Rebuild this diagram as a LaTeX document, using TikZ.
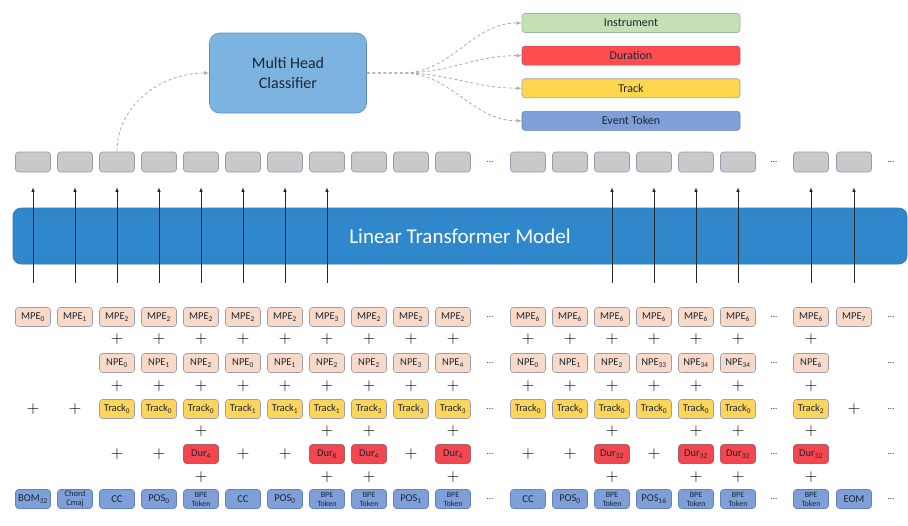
\documentclass[tikz,border=0pt]{standalone}
\usepackage[no-math]{fontspec}
\setmainfont{Carlito}
\usepackage{tikz}
\usetikzlibrary{arrows, positioning, calc}
\definecolor{hidfill}{HTML}{C9C9C9}
\definecolor{hidline}{HTML}{8E9CB6}
\definecolor{pefill}{HTML}{F9D9C7}
\definecolor{peline}{HTML}{9C9EAE}
\definecolor{trkfill}{HTML}{FCD55A}
\definecolor{durfill}{HTML}{F2474E}
\definecolor{durline}{HTML}{A8606A}
\definecolor{evtfill}{HTML}{7E9FD8}
\definecolor{evtline}{HTML}{6482BE}
\definecolor{ltmfill}{HTML}{2F88CC}
\definecolor{ltmline}{HTML}{2A78B6}
\definecolor{mhcfill}{HTML}{7DB3E1}
\definecolor{mhcline}{HTML}{5B8FC4}
\definecolor{insfill}{HTML}{C6E0B5}
\definecolor{insline}{HTML}{9DB39B}
\definecolor{outred}{HTML}{FF4D4F}
\definecolor{outyellow}{HTML}{FFD74F}
\definecolor{dashgray}{HTML}{ABABAB}
\definecolor{textdark}{HTML}{1E2633}
\tikzset{%
	box/.style={draw, rectangle, rounded corners=3pt, minimum width=35pt, minimum height=19pt,%
		inner sep=0pt, line width=0.6pt, text=textdark, font=\fontsize{10.5}{11}\selectfont},
	hid/.style={box, minimum height=20pt, fill=hidfill, draw=hidline},
	pe/.style={box, fill=pefill, draw=peline},
	trk/.style={box, fill=trkfill, draw=peline},
	dur/.style={box, fill=durfill, draw=durline},
	evt/.style={box, fill=evtfill, draw=evtline},
	twoline/.style={align=center, font=\fontsize{8}{9}\selectfont},
	plus/.style={inner sep=0pt, font=\fontsize{16}{16}\selectfont},
	more/.style={inner sep=0pt, text=textdark, font=\fontsize{9}{9}\selectfont},
	head/.style={draw, rectangle, rounded corners=3pt, minimum width=218pt, minimum height=19pt,%
		inner sep=0pt, line width=0.6pt, text=textdark, font=\fontsize{12}{13}\selectfont},
	lift/.style={-latex, line width=0.6pt, black!85},
	guess/.style={-latex, dash pattern=on 3pt off 2.5pt, line width=0.8pt, dashgray}
}

\begin{document}
\begin{tikzpicture}[x=1pt, y=-1pt]
	\useasboundingbox (0,0) rectangle (908,525);

	\coordinate (ympe) at (0,317);
	\coordinate (yp1) at (0,339);
	\coordinate (ynpe) at (0,363);
	\coordinate (yp2) at (0,386);
	\coordinate (ytrk) at (0,409);
	\coordinate (yp3) at (0,431);
	\coordinate (ydur) at (0,454);
	\coordinate (yp4) at (0,477);
	\coordinate (ytok) at (0,499);

	\node[box, minimum width=894pt, minimum height=56pt, rounded corners=8pt, fill=ltmfill, draw=ltmline,%
		text=white, font=\fontsize{21}{21}\selectfont] (ltm) at (460,236) {Linear Transformer Model};

	\foreach \c/\x in {0/33,1/75,2/117,3/159,4/201,5/243,6/285,7/327,8/369,9/411,10/453,%
		11/528,12/570,13/612,14/654,15/696,16/738,17/811,18/854}
		\node[hid] (h\c) at (\x,162) {};
	\foreach \x [count=\i] in {490,774,891} {
		\node[more] (hd\i) at (\x,162) {...};
		\foreach \r in {ympe,ynpe,ytrk,ydur,ytok}
			\node[more] (\r-\i) at (hd\i |- \r) {...};
	}

	\foreach \c in {0,...,7,13,14,15,16,17,18} {
		\coordinate (a\c) at (h\c |- 0,283);
		\draw[lift, shorten >=15pt] (a\c) -- (h\c);
	}

	\foreach \c/\s in {0/0,1/1,2/2,3/2,4/2,5/2,6/2,7/3,8/2,9/2,10/2,11/6,12/6,13/6,14/6,15/6,16/6,17/6,18/7}
		\node[pe] (mpe\c) at (h\c |- ympe) {MPE\textsubscript{\s}};
	\foreach \c/\s in {2/0,3/1,4/2,5/0,6/1,7/2,8/2,9/3,10/4,11/0,12/1,13/2,14/33,15/34,16/34,17/6}
		\node[pe] (npe\c) at (h\c |- ynpe) {NPE\textsubscript{\s}};
	\foreach \c/\s in {2/0,3/0,4/0,5/1,6/1,7/1,8/3,9/3,10/3,11/0,12/0,13/0,14/0,15/0,16/0,17/2}
		\node[trk] (trk\c) at (h\c |- ytrk) {Track\textsubscript{\s}};
	\foreach \c/\s in {4/4,7/8,8/4,10/4,13/32,15/32,16/32,17/32}
		\node[dur] (dur\c) at (h\c |- ydur) {Dur\textsubscript{\s}};
	\foreach \c/\lbl in {0/BOM\textsubscript{32},2/CC,3/POS\textsubscript{0},5/CC,6/POS\textsubscript{0},%
		9/POS\textsubscript{1},11/CC,12/POS\textsubscript{0},14/POS\textsubscript{16},18/EOM}
		\node[evt] (tok\c) at (h\c |- ytok) {\lbl};
	\foreach \c in {4,7,8,10,13,15,16,17}
		\node[evt, twoline] (tok\c) at (h\c |- ytok) {BPE\\Token};
	\node[evt, twoline, font=\fontsize{8.5}{9}\selectfont] (tok1) at (h1 |- ytok) {Chord\\Cmaj};

	\foreach \c in {2,...,17} {
		\node[plus] (pa\c) at (h\c |- yp1) {$+$};
		\node[plus] (pb\c) at (h\c |- yp2) {$+$};
	}
	\foreach \c in {4,7,8,10,13,15,16,17} {
		\node[plus] (pc\c) at (h\c |- yp3) {$+$};
		\node[plus] (pd\c) at (h\c |- yp4) {$+$};
	}
	\foreach \c in {0,1,18}
		\node[plus] (pt\c) at (h\c |- ytrk) {$+$};
	\foreach \c in {2,3,5,6,9,11,12,14}
		\node[plus] (pr\c) at (h\c |- ydur) {$+$};

	\node[box, minimum width=157pt, minimum height=80pt, rounded corners=10pt, fill=mhcfill, draw=mhcline,%
		align=center, font=\fontsize{16}{20}\selectfont] (mhc) at (288,73) {Multi Head\\Classifier};
	\node[head, fill=insfill, draw=insline] (ins) at (631,23) {Instrument};
	\node[head, fill=outred, draw=durline, below=13pt of ins] (dura) {Duration};
	\node[head, fill=outyellow, draw=peline, below=13pt of dura] (trck) {Track};
	\node[head, fill=evtfill, draw=evtline, below=13pt of trck] (evnt) {Event Token};

	\draw[guess] (h2) to[out=90, in=180] (mhc.west);
	\coordinate (fan) at (402,73);
	\foreach \o in {ins,dura,trck,evnt}
		\draw[guess] (mhc.east) -- (fan) to[out=0, in=180] (\o.west);
\end{tikzpicture}
\end{document}
